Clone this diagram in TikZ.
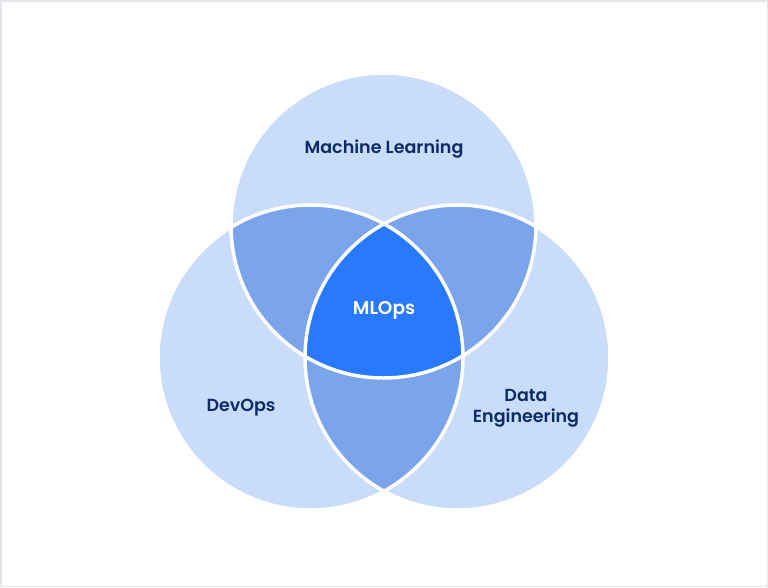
\documentclass[tikz,border=0pt]{standalone}
\usepackage{fontspec}
\setmainfont{Poppins}[BoldFont={Poppins SemiBold}]
\definecolor{light}{HTML}{C9DCFA}
\definecolor{mid}{HTML}{7BA5EB}
\definecolor{core}{HTML}{2979FF}
\definecolor{navy}{HTML}{0D2B66}
\definecolor{frame}{HTML}{E4E6EB}
\begin{document}
\begin{tikzpicture}[x=1pt,y=-1pt,
  lbl/.style={font=\bfseries\fontsize{17.5}{21}\selectfont, text=navy, align=center},
  ring/.style={draw=white, line width=3.5pt}]
\useasboundingbox (0,0) rectangle (768,587);
\draw[frame, line width=1.5pt] (0.75,0.75) rectangle (767.25,586.25);
\def\R{152.5}
\coordinate (ml) at (383.5,225.5);
\coordinate (dv) at (310.5,357.5);
\coordinate (de) at (457.5,357.5);
% base circles
\fill[light] (ml) circle (\R);
\fill[light] (dv) circle (\R);
\fill[light] (de) circle (\R);
% pairwise
\begin{scope}\clip (ml) circle (\R); \fill[mid] (dv) circle (\R); \fill[mid] (de) circle (\R);\end{scope}
\begin{scope}\clip (dv) circle (\R); \fill[mid] (de) circle (\R);\end{scope}
% core
\begin{scope}\clip (ml) circle (\R); \clip (dv) circle (\R); \fill[core] (de) circle (\R);\end{scope}
% outlines
\draw[ring] (ml) circle (\R);
\draw[ring] (dv) circle (\R);
\draw[ring] (de) circle (\R);
% labels
\node[lbl] (tml) at (384,149.5) {Machine Learning};
\node[lbl, text=white, font=\bfseries\fontsize{18.5}{22}\selectfont] (tmlops) at (384,310) {MLOps};
\node[lbl] (tdv) at (241,408) {DevOps};
\node[lbl] (tde) at (526,408) {Data\\Engineering};
\end{tikzpicture}
\end{document}
